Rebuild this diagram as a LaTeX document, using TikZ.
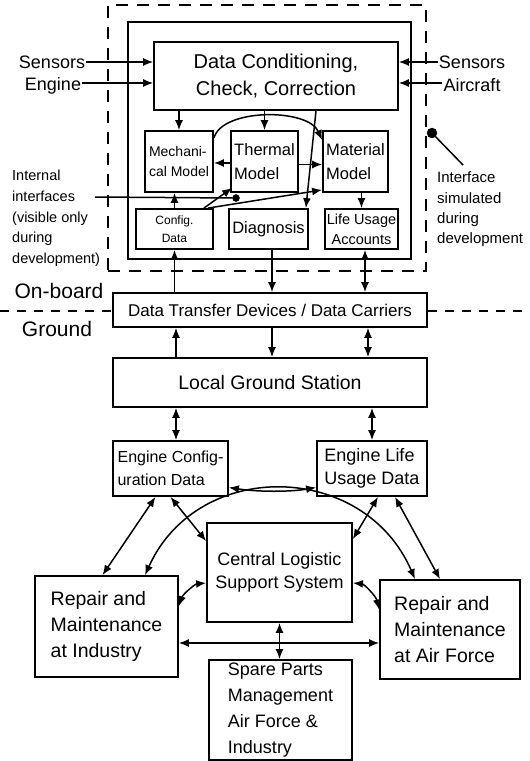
\documentclass[tikz,border=0pt]{standalone}
\usepackage{fontspec}
\setmainfont{Liberation Sans}
\usepackage{tikz}
\usetikzlibrary{arrows.meta}
\newcommand\fsz[2]{\fontsize{#1pt}{#2pt}\selectfont}
\tikzset{
    box/.style={draw, rectangle, line width=1.8pt, inner sep=2pt, align=center},
    lbox/.style={box, align=left}
}
\tikzset{
    arr/.style={line width=1.5pt, -{Latex[length=10pt,width=8pt]}},
    darr/.style={line width=1.5pt, {Latex[length=10pt,width=8pt]}-{Latex[length=10pt,width=8pt]}},
    gline/.style={line width=1.1pt, dash pattern=on 9pt off 8pt}
}
\tikzset{
    pin/.style={circle, fill, draw, inner sep=0pt},
    lbl/.style={inner sep=1pt, align=left}
}

\begin{document}
\begin{tikzpicture}[x=1pt,y=-1pt]
	\useasboundingbox (0,0) rectangle (530,761);
	% on-board part
	\node[draw, line width=1.2pt, dash pattern=on 12pt off 9pt, minimum width=318pt, minimum height=266pt] (obd) at (267,138) {};
	\node[draw, line width=2.2pt, minimum width=283pt, minimum height=237pt] (obu) at (269.5,140.5) {};
	\node[box, minimum width=244pt, minimum height=68pt, font=\fsz{20}{27}] (dc) at (276,76) {Data Conditioning,\\Check, Correction};
	\node[lbox, minimum width=68pt, minimum height=61pt, font=\fsz{14}{20}] (mech) at (179,161.5) {Mechani-\\cal Model};
	\node[lbox, minimum width=67pt, minimum height=61pt, font=\fsz{16.5}{24}] (therm) at (264.5,161.5) {Thermal\\Model};
	\node[lbox, minimum width=65pt, minimum height=61pt, font=\fsz{16.5}{24}] (mater) at (355.5,161.5) {Material\\Model};
	\node[box, minimum width=77pt, minimum height=40pt, font=\fsz{12}{18}] (config) at (174.5,229) {Config.\\Data};
	\node[box, minimum width=79pt, minimum height=40pt, font=\fsz{16.5}{20}] (diag) at (268.5,229) {Diagnosis};
	\node[box, inner sep=1pt, minimum width=73pt, minimum height=40pt, font=\fsz{14.5}{20}] (life) at (361.5,229) {Life Usage\\Accounts};
	% ground part
	\node[box, minimum width=314pt, minimum height=34pt, font=\fsz{17}{20}] (dt) at (270,310) {Data Transfer Devices / Data Carriers};
	\node[box, minimum width=314pt, minimum height=49pt, font=\fsz{19.5}{24}] (lgs) at (270,382.5) {Local Ground Station};
	\node[lbox, minimum width=115pt, minimum height=55pt, font=\fsz{16}{23}] (ecd) at (170.5,468.5) {Engine Config-\\uration Data};
	\node[lbox, minimum width=110pt, minimum height=55pt, font=\fsz{18}{23}] (elud) at (372,468.5) {Engine Life\\Usage Data};
	\node[box, minimum width=145pt, minimum height=99pt, font=\fsz{18}{23}] (clss) at (279.5,572.5) {Central Logistic\\Support System};
	\node[lbox, minimum width=143pt, minimum height=101pt, font=\fsz{19.5}{26}] (rind) at (106.5,626.5) {Repair and\\Maintenance\\at Industry};
	\node[lbox, minimum width=140pt, minimum height=99pt, font=\fsz{19.5}{26}] (raf) at (450,629.5) {Repair and\\Maintenance\\at Air Force};
	\node[lbox, minimum width=143pt, minimum height=100pt, font=\fsz{18}{26}] (spare) at (280.5,710) {Spare Parts\\Management\\Air Force \&\\Industry};
	% labels
	\node[lbl, font=\fsz{18}{22}] (sen1) at (52,62) {Sensors};
	\node[lbl, font=\fsz{18}{22}] (sen2) at (53,86) {Engine};
	\node[lbl, font=\fsz{18}{22}] (sac1) at (472,62) {Sensors};
	\node[lbl, font=\fsz{18}{22}] (sac2) at (472,85) {Aircraft};
	\node[lbl, anchor=west, font=\fsz{14.5}{20.7}] (intf) at (11,218.5) {Internal\\interfaces\\(visible only\\during\\development)};
	\node[lbl, anchor=west, font=\fsz{15}{20.3}] (isim) at (436,209.3) {Interface\\simulated\\during\\development};
	\node[lbl, font=\fsz{21}{24}] (onb) at (59,291) {On-board};
	\node[lbl, font=\fsz{21}{24}] (gnd) at (57,329) {Ground};
	\node[pin, minimum size=7pt] (p1) at (236,198) {};
	\node[pin, minimum size=10pt] (p2) at (432,133) {};
	\coordinate (ii) at (95,197);
	\coordinate (is) at (463,165);
	\coordinate (gl) at (0,311);
	\coordinate (gr) at (530,311);
	\draw[gline] (gl) -- (gl -| dt.west);
	\draw[gline] (dt.east |- gr) -- (gr);
	\draw[line width=1.5pt] (ii) -- (p1);
	\draw[line width=1.5pt] (p2) -- (is);
	% connectors on board
	\draw[arr] (sen1.east) -- (sen1.east -| dc.west);
	\draw[arr] ([yshift=3pt]sen2.east) -- ([yshift=3pt]sen2.east -| dc.west);
	\draw[arr] (sac1.west) -- (sac1.west -| dc.east);
	\draw[arr] ([yshift=2pt]sac2.west) -- ([yshift=2pt]sac2.west -| dc.east);
	\draw[arr] (dc.south -| mech) -- (mech.north);
	\draw[arr] (dc.south -| therm) -- (therm.north);
	\draw[arr] ([xshift=40pt]dc.south) -- ([xshift=-3pt]diag.north east);
	\draw[arr] ([yshift=-8pt]mech.north east) .. controls (222,108) and (308,108) .. ([yshift=-10pt]mater.north west);
	\draw[arr] ([yshift=-1.5pt]therm.west) -- ([yshift=-1.5pt]therm.west -| mech.east);
	\draw[arr] ([yshift=-3pt]therm.east) -- ([yshift=-3pt]therm.east -| mater.west);
	\draw[arr] (config.north) -- (config.north |- mech.south);
	\draw[arr] ([xshift=-10pt]config.north east) -- ([shift={(2pt,5pt)}]therm.south west);
	\draw[arr] ([xshift=-6pt]config.north east) -- ([yshift=3pt]mater.south west);
	\draw[arr] (mater.south -| life) -- (life.north);
	% on board to ground
	\draw[arr] (dt.north -| config) -- (config.south);
	\draw[arr] ([xshift=3.5pt]diag.south) -- ([xshift=2pt]dt.north);
	\draw[darr] ([xshift=3.5pt]life.south) -- ([xshift=95pt]dt.north);
	\draw[arr] ([xshift=-94pt]lgs.north) -- ([xshift=-94pt]dt.south);
	\draw[arr] ([xshift=2pt]dt.south) -- ([xshift=2pt]lgs.north);
	\draw[darr] ([xshift=98pt]dt.south) -- ([xshift=98pt]lgs.north);
	\draw[darr] ([xshift=-94pt]lgs.south) -- ([xshift=5.5pt]ecd.north);
	\draw[darr] ([xshift=102pt]lgs.south) -- (elud.north);
	% ground links
	\draw[darr] ([yshift=-19pt]ecd.east) .. controls (258,492) and (290,492) .. ([yshift=-19pt]elud.west);
	\draw[darr] ([xshift=38.5pt]rind.north) .. controls (198,458) and (364,461) .. ([xshift=-35pt]raf.north);
	\draw[darr] ([xshift=-15pt]ecd.south) -- ([xshift=-4pt]rind.north);
	\draw[darr] (ecd.south) -- ([yshift=-19pt]clss.north west);
	\draw[darr] ([xshift=6pt]elud.south) -- ([yshift=-17pt]clss.north east);
	\draw[darr] ([xshift=23pt]elud.south) -- ([xshift=-10pt]raf.north);
	\draw[darr] ([yshift=-10.5pt]clss.west) .. controls (195,584) and (183,594) .. ([yshift=-31pt]rind.north east);
	\draw[darr] ([yshift=-10.5pt]clss.east) .. controls (364,584) and (376,596) .. ([yshift=-30.5pt]raf.north west);
	\draw[darr] ([yshift=-16.5pt]rind.east) -- ([yshift=-16.5pt]rind.east -| raf.west);
	\draw[darr] (clss.south) -- (clss.south |- spare.north);
\end{tikzpicture}
\end{document}
